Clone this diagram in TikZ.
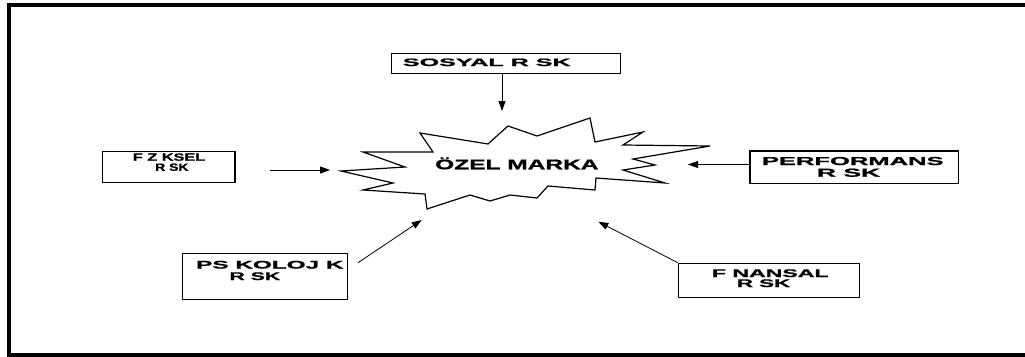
\documentclass[tikz,border=0pt]{standalone}
\usepackage{fontspec}
\setmainfont{Liberation Sans}[BoldFeatures={FakeBold=1}]
\usepackage{graphicx}
\usetikzlibrary{arrows.meta}

% widen a line of text horizontally by a given factor
\newcommand{\wideline}[2]{\scalebox{#1}[1]{#2}}

\tikzset{
  riskbox/.style={draw=black, line width=1.3pt, fill=white, inner sep=0pt},
  boxtext/.style={inner sep=0pt, anchor=base west},
  arr/.style={line width=0.8pt, -{Triangle[length=10pt, width=7pt]}},
  burst/.style={draw=black, line width=1.2pt, fill=white, line join=miter},
  frame/.style={draw=black, line width=4pt}
}

\begin{document}
\begin{tikzpicture}[x=1pt, y=-1pt]
\useasboundingbox (0,0) rectangle (1025,356);
\clip (0,0) rectangle (1025,356);

% outer frame
\draw[frame] (9,5) rectangle (1040,354.7);

% central burst
\draw[burst] (420,133) -- (488,144) -- (508,126) -- (537,136) -- (590,118)
  -- (595,142) -- (643,132) -- (623,145) -- (710,146) -- (633,159)
  -- (655,165) -- (623,170) -- (665,183) -- (596,178) -- (595,190)
  -- (548,186) -- (537,198) -- (510,195) -- (490,201) -- (470,195)
  -- (427,209) -- (425,194) -- (363,190) -- (393,183) -- (341,171)
  -- (405,167) -- (363,152) -- (433,152) -- cycle;
\node[boxtext, font=\fontsize{14pt}{16pt}\selectfont\bfseries]
  (marka) at (435,169.3) {\wideline{1.75}{ÖZEL MARKA}};

% risk boxes, each text line set on its own baseline
\node[riskbox, minimum width=229pt, minimum height=20pt] (sos) at (506.2,63.3) {};
\node[boxtext, font=\fontsize{10.7pt}{12pt}\selectfont\bfseries]
  (sosT) at (402.7,66) {\wideline{2.344}{SOSYAL R SK}};

\node[riskbox, minimum width=132.3pt, minimum height=31pt] (fiz) at (168.85,167.2) {};
\node[boxtext, font=\fontsize{10.5pt}{12pt}\selectfont\bfseries]
  (fizA) at (132.7,160.7) {\wideline{1.549}{F Z KSEL}};
\node[boxtext, font=\fontsize{10.5pt}{12pt}\selectfont\bfseries]
  (fizB) at (155,170.8) {\wideline{1.328}{R SK}};

\node[riskbox, minimum width=208.3pt, minimum height=32.3pt] (perf) at (854.2,167.2) {};
\node[boxtext, font=\fontsize{11.5pt}{12pt}\selectfont\bfseries]
  (perfA) at (761.7,165) {\wideline{2.222}{PERFORMANS}};
\node[boxtext, font=\fontsize{11.5pt}{12pt}\selectfont\bfseries]
  (perfB) at (816.7,176.7) {\wideline{2.304}{R SK}};

\node[riskbox, minimum width=164.6pt, minimum height=46pt] (psi) at (265,276.3) {};
\node[boxtext, font=\fontsize{11pt}{12pt}\selectfont\bfseries]
  (psiA) at (196,268.5) {\wideline{2.211}{PS KOLOJ K}};
\node[boxtext, font=\fontsize{11pt}{12pt}\selectfont\bfseries]
  (psiB) at (229.3,280) {\wideline{1.929}{R SK}};

\node[riskbox, minimum width=181pt, minimum height=34pt] (fin) at (768.8,280.3) {};
\node[boxtext, font=\fontsize{11pt}{12pt}\selectfont\bfseries]
  (finA) at (711.7,277) {\wideline{2.099}{F NANSAL}};
\node[boxtext, font=\fontsize{11pt}{12pt}\selectfont\bfseries]
  (finB) at (736.7,287) {\wideline{2.028}{R SK}};

% arrow end points near the burst
\coordinate (sosTip) at (502,111);
\coordinate (fizTail) at (270,170);
\coordinate (fizTip) at (330,170);
\coordinate (perfTip) at (688,164.5);
\coordinate (psiTail) at (358,262.7);
\coordinate (psiTip) at (421.7,220);
\coordinate (finTip) at (598.3,221.7);

% connectors
\draw[arr] (sos.south -| sosTip) -- (sosTip);
\draw[arr] (fizTail) -- (fizTip);
\draw[arr] (perf.west |- perfTip) -- (perfTip);
\draw[arr] (psiTail) -- (psiTip);
\draw[arr] (fin.north west) -- (finTip);
\end{tikzpicture}
\end{document}
